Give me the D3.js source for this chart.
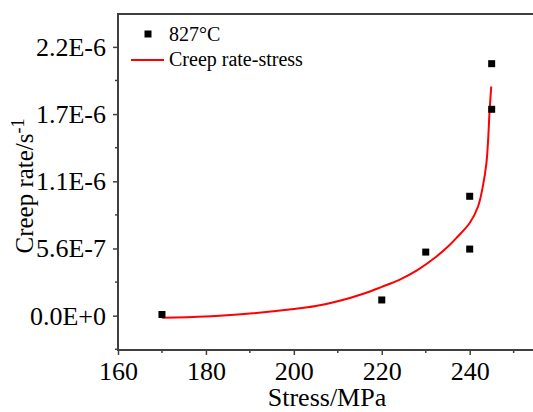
<!DOCTYPE html>
<html lang="en">
<head>
<meta charset="UTF-8">
<title>Creep rate - stress</title>
<script src="https://d3js.org/d3.v7.min.js"></script>
<style>
  body { margin: 0; background: #fff; }
  svg { display: block; }
  svg text { font-family: "Liberation Serif", "Times New Roman", serif; }
</style>
</head>
<body>
<div id="chart"></div>
<script>
// measured points (827°C)
const stress = [170, 220, 230, 240, 240, 245, 245];
const rate = [1e-8, 1.31e-7, 5.3e-7, 5.55e-7, 9.95e-7, 1.72e-6, 2.1e-6];

// fitted curve
const fitStress = [170, 180, 190, 200, 205, 210, 216, 220, 224, 228, 232, 235.5, 237.3, 240, 241.9, 243, 243.8, 244.2, 244.5, 244.9];
const fitRate = [-1.7e-8, -7e-9, 1.8e-8, 5.5e-8, 8e-8, 1.2e-7, 1.85e-7, 2.4e-7, 2.98e-7, 3.77e-7, 4.8e-7, 5.91e-7, 6.6e-7, 7.72e-7, 9.1e-7, 1.08e-6, 1.27e-6, 1.47e-6, 1.69e-6, 1.91e-6];

// axis ticks
const xTicks = [160, 180, 200, 220, 240];
const xMinor = [170, 190, 210, 230, 250];
const yTicks = [0, 5.6e-7, 1.12e-6, 1.68e-6, 2.24e-6];
const yLabels = ["0.0E+0", "5.6E-7", "1.1E-6", "1.7E-6", "2.2E-6"];
const yMinor = [-2.8e-7, 2.8e-7, 8.4e-7, 1.4e-6, 1.96e-6];

const W = 533, H = 412;
const mLeft = 118, mTop = 14, mBottom = 350, mRight = 533;

const svg = d3.select("#chart").append("svg")
  .attr("width", W).attr("height", H);

const x = d3.scaleLinear().domain([160, 254.4]).range([mLeft, mRight]);
const y = d3.scaleLinear().domain([-2.86e-7, 2.514e-6]).range([mBottom, mTop]);

const axisColor = "#404040";

// y axis
const gy = svg.append("g").attr("transform", `translate(${mLeft},0)`)
  .call(d3.axisLeft(y).tickValues(yTicks).tickFormat((d, i) => yLabels[i])
    .tickSize(5).tickSizeOuter(0).tickPadding(7));
gy.attr("font-family", null);
gy.selectAll(".tick text").style("font-size", "26px").attr("fill", "#000");
gy.append("g").selectAll("line").data(yMinor).enter().append("line")
  .attr("x1", -3).attr("x2", 0).attr("y1", d => y(d)).attr("y2", d => y(d));

// x axis
const gx = svg.append("g").attr("transform", `translate(0,${mBottom})`)
  .call(d3.axisBottom(x).tickValues(xTicks).tickFormat(d3.format("d"))
    .tickSize(5).tickSizeOuter(0).tickPadding(7));
gx.attr("font-family", null);
gx.selectAll(".tick text").style("font-size", "26px").attr("fill", "#000");
gx.append("g").selectAll("line").data(xMinor).enter().append("line")
  .attr("y1", 0).attr("y2", 3).attr("x1", d => x(d)).attr("x2", d => x(d));

svg.selectAll(".domain").remove();
svg.selectAll("g line").attr("stroke", axisColor).attr("stroke-width", 1.5);

// frame (left, top, bottom)
svg.append("path")
  .attr("d", `M${mRight},${mTop}H${mLeft}V${mBottom}H${mRight}`)
  .attr("fill", "none").attr("stroke", axisColor).attr("stroke-width", 2);

// fitted curve
const line = d3.line().x(d => x(d[0])).y(d => y(d[1])).curve(d3.curveCatmullRom.alpha(0.5));
svg.append("path")
  .datum(d3.zip(fitStress, fitRate))
  .attr("d", line)
  .attr("fill", "none").attr("stroke", "#ff0000").attr("stroke-width", 2);

// points
const sq = 7;
svg.append("g").selectAll("rect").data(d3.zip(stress, rate)).enter().append("rect")
  .attr("x", d => x(d[0]) - sq / 2).attr("y", d => y(d[1]) - sq / 2)
  .attr("width", sq).attr("height", sq).attr("fill", "#000");

// legend
const lg = svg.append("g");
lg.append("rect").attr("x", 148 - sq / 2).attr("y", 34 - sq / 2).attr("width", sq).attr("height", sq).attr("fill", "#000");
lg.append("text").attr("x", 169).attr("y", 41).style("font-size", "20px").text("827°C");
lg.append("line").attr("x1", 131).attr("x2", 164).attr("y1", 60).attr("y2", 60)
  .attr("stroke", "#ff0000").attr("stroke-width", 2);
lg.append("text").attr("x", 169).attr("y", 66).style("font-size", "20px").text("Creep rate-stress");

// axis titles
svg.append("text").attr("x", 327).attr("y", 406).attr("text-anchor", "middle")
  .style("font-size", "26px").text("Stress/MPa");

const yt = svg.append("text").attr("transform", "translate(33,186) rotate(-90)")
  .attr("text-anchor", "middle").style("font-size", "25px");
yt.append("tspan").text("Creep rate/s");
yt.append("tspan").style("font-size", "18px").attr("dy", -9).text("-1");
</script>
</body>
</html>
